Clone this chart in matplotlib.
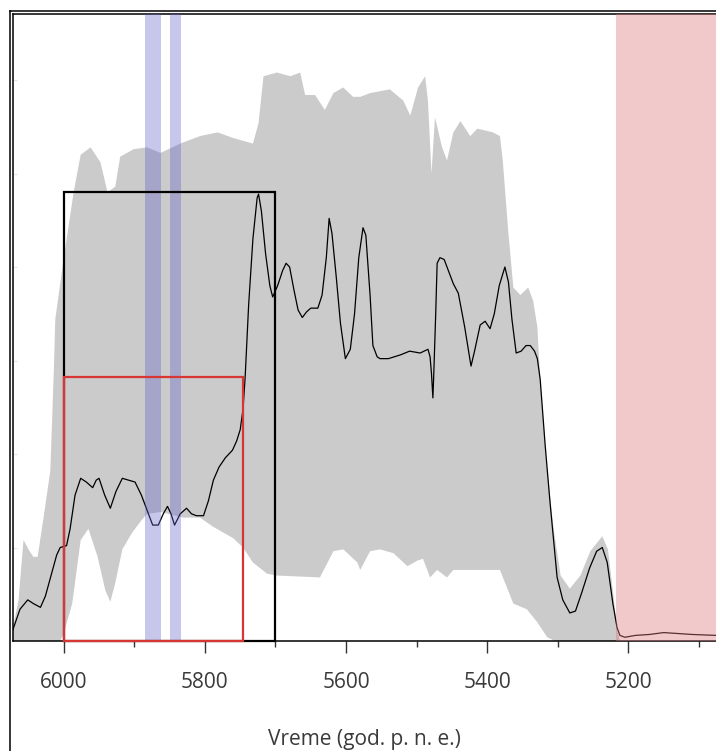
import matplotlib
matplotlib.use("Agg")
import matplotlib.pyplot as plt
from matplotlib.patches import Rectangle
from matplotlib.lines import Line2D

plt.rcParams["font.family"] = ["Open Sans", "DejaVu Sans"]

# ---------------------------------------------------------------------------
# Podaci (očitani sa slike): godine p. n. e., relativna gustina
# ---------------------------------------------------------------------------
median_years = [6073, 6062, 6051, 6043, 6033, 6026, 6018, 6010, 6005, 5996, 5991, 5984,
                5976, 5968, 5959, 5954, 5950, 5942, 5934, 5926, 5917, 5908, 5899, 5890,
                5880, 5874, 5866, 5859, 5853, 5848, 5843, 5835, 5826, 5819, 5812, 5802,
                5795, 5788, 5780, 5771, 5761, 5755, 5750, 5746, 5743, 5738, 5732, 5726,
                5724, 5720, 5714, 5708, 5704, 5697, 5690, 5685, 5680, 5674, 5668, 5662,
                5656, 5650, 5640, 5634, 5628, 5624, 5620, 5614, 5608, 5601, 5594, 5588,
                5582, 5576, 5572, 5566, 5562, 5556, 5552, 5540, 5523, 5510, 5495, 5484,
                5481, 5479, 5477, 5476, 5473, 5471, 5467, 5461, 5455, 5448, 5441, 5432,
                5423, 5418, 5410, 5403, 5396, 5390, 5383, 5375, 5370, 5365, 5359, 5352,
                5345, 5339, 5333, 5329, 5325, 5318, 5311, 5305, 5301, 5293, 5283, 5275,
                5266, 5255, 5245, 5237, 5230, 5222, 5216, 5212, 5205, 5190, 5170, 5150,
                5130, 5110, 5076]
median_vals = [0.05, 0.17, 0.22, 0.20, 0.18, 0.24, 0.35, 0.46, 0.50, 0.51, 0.60, 0.78,
               0.87, 0.85, 0.82, 0.86, 0.87, 0.78, 0.71, 0.80, 0.87, 0.86, 0.85, 0.78,
               0.68, 0.62, 0.62, 0.68, 0.72, 0.68, 0.62, 0.68, 0.71, 0.68, 0.67, 0.67,
               0.75, 0.86, 0.93, 0.98, 1.02, 1.07, 1.13, 1.24, 1.41, 1.80, 2.15, 2.37,
               2.39, 2.30, 2.07, 1.90, 1.84, 1.90, 1.98, 2.02, 2.00, 1.88, 1.77, 1.73,
               1.76, 1.78, 1.78, 1.85, 2.05, 2.26, 2.18, 1.95, 1.70, 1.51, 1.56, 1.75,
               2.05, 2.21, 2.17, 1.85, 1.58, 1.52, 1.51, 1.51, 1.53, 1.55, 1.54, 1.56,
               1.52, 1.43, 1.30, 1.40, 1.75, 2.02, 2.05, 2.04, 1.98, 1.91, 1.86, 1.68,
               1.47, 1.55, 1.69, 1.71, 1.67, 1.75, 1.90, 2.00, 1.92, 1.72, 1.54, 1.55,
               1.58, 1.58, 1.55, 1.51, 1.40, 1.05, 0.74, 0.50, 0.34, 0.22, 0.15, 0.16,
               0.26, 0.39, 0.48, 0.50, 0.42, 0.20, 0.07, 0.03, 0.02, 0.03, 0.035, 0.045,
               0.04, 0.035, 0.03]

upper_years = [6073, 6064, 6057, 6050, 6043, 6037, 6029, 6019, 6014, 6012, 6001, 5986,
               5976, 5962, 5948, 5938, 5927, 5920, 5901, 5882, 5863, 5835, 5807, 5782,
               5760, 5732, 5724, 5717, 5698, 5679, 5665, 5658, 5644, 5630, 5618, 5604,
               5590, 5580, 5566, 5538, 5519, 5509, 5498, 5488, 5484, 5479, 5474, 5464,
               5457, 5448, 5438, 5424, 5414, 5392, 5382, 5378, 5370, 5363, 5353, 5342,
               5335, 5329, 5325, 5316, 5306, 5296, 5283, 5268, 5254, 5237, 5229, 5222,
               5216, 5212, 5076]
upper_vals = [0.05, 0.22, 0.54, 0.49, 0.45, 0.45, 0.65, 0.91, 1.45, 1.72, 2.02, 2.40,
              2.60, 2.64, 2.56, 2.40, 2.43, 2.59, 2.63, 2.64, 2.61, 2.66, 2.70, 2.72,
              2.69, 2.66, 2.77, 3.02, 3.04, 3.02, 3.04, 2.92, 2.92, 2.84, 2.93, 2.96,
              2.91, 2.91, 2.93, 2.95, 2.89, 2.81, 2.96, 3.02, 2.89, 2.50, 2.80, 2.64,
              2.57, 2.72, 2.78, 2.70, 2.74, 2.72, 2.70, 2.57, 2.18, 1.89, 1.85, 1.89,
              1.82, 1.68, 1.40, 0.95, 0.60, 0.35, 0.28, 0.35, 0.48, 0.56, 0.49, 0.27,
              0.06, 0.0, 0.0]

lower_years = [6073, 6005, 6000, 5988, 5976, 5965, 5952, 5941, 5934, 5927, 5917, 5903,
               5891, 5882, 5863, 5831, 5807, 5788, 5760, 5746, 5732, 5712, 5698, 5637,
               5618, 5604, 5584, 5580, 5566, 5552, 5533, 5513, 5499, 5491, 5481, 5471,
               5457, 5448, 5382, 5363, 5344, 5329, 5315, 5304, 5076]
lower_vals = [0.0, 0.0, 0.04, 0.20, 0.54, 0.60, 0.45, 0.27, 0.21, 0.31, 0.49, 0.58,
              0.64, 0.68, 0.69, 0.66, 0.66, 0.61, 0.55, 0.50, 0.42, 0.36, 0.35, 0.34,
              0.48, 0.49, 0.42, 0.38, 0.48, 0.49, 0.47, 0.40, 0.43, 0.44, 0.34, 0.38,
              0.34, 0.38, 0.38, 0.20, 0.17, 0.10, 0.02, 0.0, 0.0]

# istaknuti intervali
blue_bands = [(5885, 5862), (5850, 5834)]
pink_start = 5218
black_box = (6000, 5700, 2.40)   # od, do, visina
red_box = (6000, 5746, 1.41)

x_ticks = [6000, 5800, 5600, 5400, 5200]
x_minor = [5900, 5700, 5500, 5300, 5100]
x_label = "Vreme (god. p. n. e.)"


def main():
    W, H = 716, 751
    fig = plt.figure(figsize=(W / 100, H / 100), dpi=100)
    ax = fig.add_axes([12.5 / W, (H - 641) / H, (W - 12.5) / W, (641 - 14) / H])

    # siva traka: gornja granica pa donja unazad -> jedan poligon
    ax.fill(upper_years + lower_years[::-1], upper_vals + lower_vals[::-1],
            color="#cbcbcb", lw=0, zorder=1)

    ax.plot(median_years, median_vals, color="black", lw=0.9, zorder=2)

    for a, b in blue_bands:
        ax.axvspan(a, b, color="#5f5fc8", alpha=0.35, lw=0, zorder=3)
    ax.axvspan(pink_start, 5000, color="#dc787d", alpha=0.4, lw=0, zorder=3)

    for (x0, x1, h), col in [(black_box, "black"), (red_box, "#d93535")]:
        ax.add_patch(Rectangle((x1, 0), x0 - x1, h, fill=False, ec=col, lw=1.6,
                               zorder=4, clip_on=False))

    ax.set_xlim(6072.6, 5075.9)
    ax.set_ylim(0, 3.353)

    ax.set_xticks(x_ticks)
    ax.set_xticks(x_minor, minor=True)
    ax.tick_params(axis="x", which="major", length=8.6, width=1, color="#333333",
                   labelsize=15, labelcolor="#3a3a3a", pad=14)
    ax.tick_params(axis="x", which="minor", length=4.3, width=1, color="#333333")
    ax.set_yticks([0.5, 1, 1.5, 2, 2.5, 3])
    ax.tick_params(axis="y", direction="in", length=3, color="#e4e4e4", labelleft=False)
    ax.set_xlabel(x_label, fontsize=15, color="#3a3a3a", labelpad=26)

    ax.spines["right"].set_visible(False)
    for s in ("left", "top", "bottom"):
        ax.spines[s].set_linewidth(1.1)
        ax.spines[s].set_color("black")

    # vanjski okvir slike
    fig.add_artist(Line2D([9.5 / W, 9.5 / W], [0, (H - 10.5) / H], color="black", lw=1.1))
    fig.add_artist(Line2D([9.5 / W, 1], [(H - 10.5) / H, (H - 10.5) / H], color="black", lw=1.1))

    fig.savefig("out.png", dpi=100)


if __name__ == "__main__":
    main()
